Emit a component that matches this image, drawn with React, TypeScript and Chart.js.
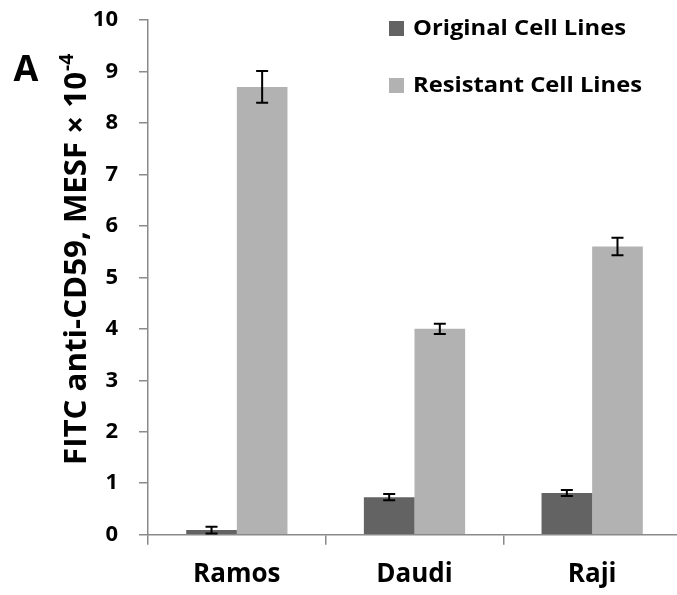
import React, { useEffect, useRef } from "react";
import { Chart, registerables } from "chart.js";

Chart.register(...registerables);

const categories = ["Ramos", "Daudi", "Raji"];
const seriesLabels = ["Original Cell Lines", "Resistant Cell Lines"];
const originalValues = [0.09, 0.73, 0.81];
const originalErrors = [0.065, 0.06, 0.06];
const resistantValues = [8.7, 4.0, 5.6];
const resistantErrors = [0.31, 0.1, 0.17];
const yTicks = [0, 1, 2, 3, 4, 5, 6, 7, 8, 9, 10];
const yTitleMain = "FITC anti-CD59, MESF × 10";
const yTitleSup = "-4";
const panelLabel = "A";

const DARK = "#636363";
const LIGHT = "#b2b2b2";
const AXIS = "#8a8a8a";
const FONT = "'Open Sans'";

const errorBarPlugin = {
  id: "errorBars",
  afterDatasetsDraw(chart: any) {
    const ctx = chart.ctx;
    const yScale = chart.scales.y;
    const errs = [originalErrors, resistantErrors];
    ctx.save();
    ctx.strokeStyle = "#000";
    ctx.lineWidth = 2;
    chart.data.datasets.forEach((ds: any, di: number) => {
      const meta = chart.getDatasetMeta(di);
      meta.data.forEach((bar: any, i: number) => {
        const v = ds.data[i];
        const e = errs[di][i];
        const yTop = yScale.getPixelForValue(v + e);
        const yBot = yScale.getPixelForValue(v - e);
        const x = bar.x;
        ctx.beginPath();
        ctx.moveTo(x, yTop);
        ctx.lineTo(x, yBot);
        ctx.moveTo(x - 6, yTop);
        ctx.lineTo(x + 6, yTop);
        ctx.moveTo(x - 6, yBot);
        ctx.lineTo(x + 6, yBot);
        ctx.stroke();
      });
    });
    ctx.restore();
  },
};

function fitText(ctx: any, text: string, x: number, y: number, targetW: number) {
  const w = ctx.measureText(text).width;
  ctx.save();
  ctx.translate(x, y);
  ctx.scale(targetW / w, 1);
  ctx.fillText(text, 0, 0);
  ctx.restore();
}

const decorPlugin = {
  id: "decor",
  afterDraw(chart: any) {
    const ctx = chart.ctx;
    ctx.save();
    // legend
    const items = chart.data.datasets.map((ds: any) => ({ label: ds.label, color: ds.backgroundColor }));
    const ys = [28.5, 85.5];
    const widths = [213, 229];
    items.forEach((it: any, i: number) => {
      ctx.fillStyle = it.color;
      ctx.fillRect(389, ys[i] - 7.5, 15, 15);
      ctx.fillStyle = "#000";
      ctx.font = `bold 21px ${FONT}`;
      ctx.textAlign = "left";
      ctx.textBaseline = "middle";
      fitText(ctx, it.label, 413, ys[i] + 1, widths[i]);
    });
    // panel label
    ctx.font = `bold 36px ${FONT}`;
    ctx.textAlign = "center";
    ctx.textBaseline = "middle";
    ctx.fillText(panelLabel, 26, 71);
    // y title
    ctx.translate(86, 465);
    ctx.rotate(-Math.PI / 2);
    ctx.font = `bold 31px ${FONT}`;
    ctx.textAlign = "left";
    ctx.textBaseline = "alphabetic";
    const w = ctx.measureText(yTitleMain).width;
    const sx = 393 / w;
    ctx.scale(sx, 1);
    ctx.fillText(yTitleMain, 0, 0);
    ctx.font = `bold 19px ${FONT}`;
    ctx.fillText(yTitleSup, w + 1, -13);
    ctx.restore();
  },
};

export default function App() {
  const ref = useRef<HTMLCanvasElement | null>(null);
  useEffect(() => {
    if (!ref.current) return;
    const chart = new Chart(ref.current, {
      type: "bar",
      data: {
        labels: categories,
        datasets: [
          { label: seriesLabels[0], data: originalValues, backgroundColor: DARK, categoryPercentage: 0.57, barPercentage: 1.0 },
          { label: seriesLabels[1], data: resistantValues, backgroundColor: LIGHT, categoryPercentage: 0.57, barPercentage: 1.0 },
        ],
      },
      options: {
        responsive: false,
        animation: false,
        devicePixelRatio: 1,
        layout: { autoPadding: false, padding: { top: 20, left: 0, right: 0, bottom: 0 } },
        plugins: { legend: { display: false }, tooltip: { enabled: false }, title: { display: false } },
        scales: {
          x: {
            afterFit: (s: any) => { s.height = 60.3; },
            grid: { display: true, drawOnChartArea: false, drawTicks: true, tickLength: 10, color: AXIS, lineWidth: 1.5, offset: true },
            border: { display: true, color: AXIS, width: 1.5 },
            ticks: { color: "#000", font: { family: FONT, size: 26, weight: "bold" }, padding: 14 },
          },
          y: {
            min: 0,
            max: 10,
            afterFit: (s: any) => { s.width = 148; s.paddingTop = 0; s.paddingBottom = 0; },
            afterBuildTicks: (s: any) => { s.ticks = yTicks.map((v) => ({ value: v })); },
            grid: { display: true, drawOnChartArea: false, drawTicks: true, tickLength: 9, color: AXIS, lineWidth: 1.5 },
            border: { display: true, color: AXIS, width: 1.5 },
            ticks: { color: "#000", font: { family: FONT, size: 22, weight: "bold" }, padding: 21 },
          },
        },
      },
      plugins: [errorBarPlugin, decorPlugin],
    } as any);
    return () => chart.destroy();
  }, []);
  return (
    <div style={{ position: "fixed", left: 0, top: 0, width: 677, height: 595, overflow: "hidden", background: "#fff" }}>
      <canvas ref={ref} width={681} height={595} style={{ display: "block", width: 681, height: 595 }} />
    </div>
  );
}
